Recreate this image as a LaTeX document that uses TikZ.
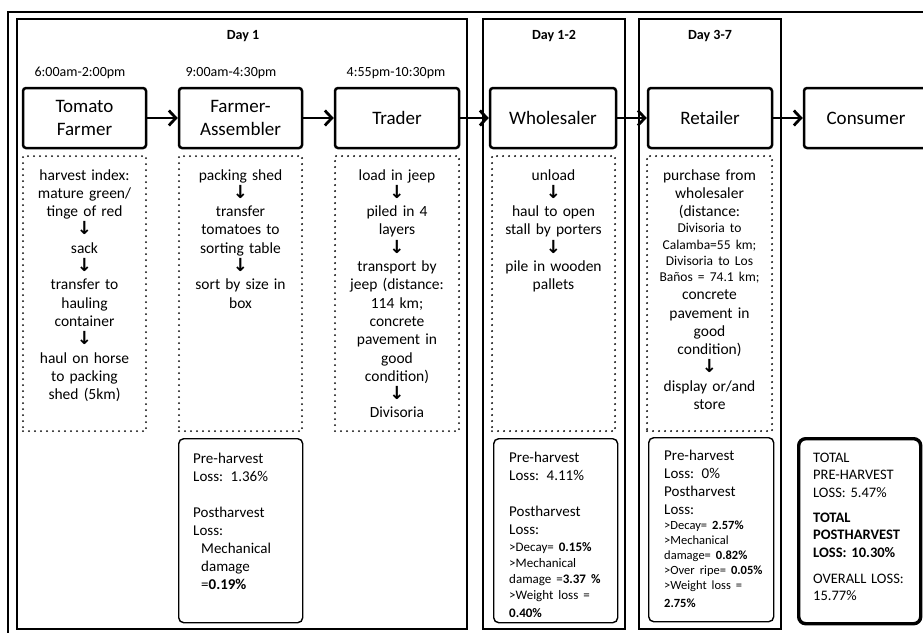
\documentclass[tikz,border=0pt]{standalone}
\usepackage{fontspec}
\setmainfont{Carlito}
\newfontfamily\arrowfont{DejaVu Sans}
\usetikzlibrary{arrows.meta}
\newcommand\dn{{\arrowfont\bfseries\fontsize{18}{18.3}\selectfont ↓}}
\begin{document}
\begin{tikzpicture}[x=1pt,y=-1pt,
  frame/.style={draw, line width=1.3pt},
  mainbox/.style={draw, line width=2.5pt, rounded corners=3pt, minimum width=123pt, minimum height=60pt, align=center, font=\fontsize{19}{23}\selectfont, inner sep=0pt},
  dotbox/.style={draw, line width=2.2pt, dash pattern=on 0pt off 6pt, line cap=round, minimum width=123pt, minimum height=275pt, anchor=north, inner sep=0pt},
  steps/.style={anchor=base, text width=120pt, align=center, inner sep=0pt, font=\fontsize{15.5}{18.3}\selectfont},
  lossbox/.style={draw, line width=1.4pt, rounded corners=5pt, anchor=north west, inner sep=0pt, minimum width=124pt, minimum height=184pt},
  losstext/.style={anchor=base west, text width=110pt, align=left, inner sep=0pt, font=\fontsize{15}{18}\selectfont},
  flow/.style={line width=2.8pt, -{Straight Barb[length=7pt,width=15pt,line width=2.8pt]}},
  daylabel/.style={font=\bfseries\fontsize{14}{16}\selectfont, inner sep=0pt},
  timelabel/.style={font=\fontsize{14}{16}\selectfont, inner sep=0pt},
]
\useasboundingbox (0,0) rectangle (923,632);
\begin{scope}
\clip (0,0) rectangle (923,632);
\draw[frame] (8,12) rectangle (940,645);
\draw[frame] (17,19) rectangle (467,629);
\draw[frame] (483,19) rectangle (625,629);
\draw[frame] (639,19) rectangle (781,629);

\node[daylabel] (day1) at (243,36) {Day 1};
\node[daylabel] (day12) at (554,36) {Day 1-2};
\node[daylabel] (day37) at (710,36) {Day 3-7};

\node[timelabel] (t1) at (80,73) {6:00am-2:00pm};
\node[timelabel] (t2) at (231,73) {9:00am-4:30pm};
\node[timelabel] (t3) at (396,73) {4:55pm-10:30pm};

\node[mainbox] (tf) at (84.5,118) {Tomato\\Farmer};
\node[mainbox] (fa) at (240.5,118) {Farmer-\\Assembler};
\node[mainbox, minimum width=124pt] (tr) at (397,118) {Trader};
\node[mainbox, minimum width=126pt] (wh) at (553,118) {Wholesaler};
\node[mainbox, minimum width=124pt] (re) at (710,118) {Retailer};
\node[mainbox, minimum width=124pt] (co) at (866,118) {Consumer};

\draw[flow] (tf) -- (fa);
\draw[flow] (fa) -- (tr);
\draw[flow] (tr) -- (wh);
\draw[flow] (wh) -- (re);
\draw[flow] (re) -- (co);

\node[dotbox] (d1) at (84.5,155) {};
\node[dotbox] (d2) at (240.5,155) {};
\node[dotbox, minimum width=124pt] (d3) at (397,155) {};
\node[dotbox] (d4) at (553.5,155) {};
\node[dotbox, minimum width=125pt] (d5) at (709.5,155) {};

\node[steps] (s1) at ([yshift=-25pt]d1.north) {harvest index:\\ mature green/\\ tinge of red\\ \dn\\ sack\\ \dn\\ transfer to\\ hauling\\ container\\ \dn\\ haul on horse\\ to packing\\ shed (5km)};
\node[steps] (s2) at ([yshift=-25pt]d2.north) {packing shed\\ \dn\\ transfer\\ tomatoes to\\ sorting table\\ \dn\\ sort by size in\\ box};
\node[steps] (s3) at ([yshift=-25pt]d3.north) {load in jeep\\ \dn\\ piled in 4\\ layers\\ \dn\\ transport by\\ jeep (distance:\\ 114 km;\\ concrete\\ pavement in\\ good\\ condition)\\ \dn\\ Divisoria};
\node[steps] (s4) at ([yshift=-25pt]d4.north) {unload\\ \dn\\ haul to open\\ stall by porters\\ \dn\\ pile in wooden\\ pallets};
\node[steps] (s5) at ([yshift=-25pt]d5.north) {purchase from\\ wholesaler\\ (distance:\\ \fontsize{13.5}{16.2}\selectfont Divisoria to\\ Calamba=55 km;\\ Divisoria to Los\\ Baños = 74.1 km;\\ \fontsize{15.5}{18.3}\selectfont concrete\\ pavement in\\ good\\ condition)\\ \dn\\ display or/and\\ store};

\node[lossbox] (l2) at (178,438) {};
\node[lossbox] (l4) at (493,438) {};
\node[lossbox, minimum width=125pt] (l5) at (648,437) {};
\node[lossbox, line width=3.4pt, rounded corners=7pt, minimum width=122pt, minimum height=185pt] (l6) at (797,437) {};

\node[losstext] (p2) at ([xshift=15pt,yshift=-25pt]l2.north west) {Pre-harvest\\ Loss: 1.36\%\\[18pt] Postharvest\\ Loss:\\ \hspace*{8pt}Mechanical\\ \hspace*{8pt}damage\\ \hspace*{8pt}=\textbf{0.19\%}};
\node[losstext] (p4) at ([xshift=16pt,yshift=-24pt]l4.north west) {Pre-harvest\\ Loss: 4.11\%\\[18pt] Postharvest\\ Loss:\\[1pt] \fontsize{13}{16}\selectfont >Decay= \textbf{0.15\%}\\ >Mechanical\\ damage =\textbf{3.37 \%}\\ >Weight loss =\\ \textbf{0.40\%}};
\node[losstext] (p5) at ([xshift=16pt,yshift=-23pt]l5.north west) {Pre-harvest\\ Loss: 0\%\\ Postharvest\\ Loss:\\ \fontsize{12.5}{15}\selectfont >Decay= \textbf{2.57\%}\\ >Mechanical\\ damage= \textbf{0.82\%}\\ >Over ripe= \textbf{0.05\%}\\ >Weight loss =\\ \textbf{2.75\%}};
\node[losstext, font=\fontsize{14.5}{17.3}\selectfont] (p6) at ([xshift=16pt,yshift=-25.5pt]l6.north west) {TOTAL\\ PRE-HARVEST\\ LOSS: 5.47\%\\[8pt] \textbf{TOTAL}\\ \textbf{POSTHARVEST}\\ \textbf{LOSS: 10.30\%}\\[9pt] OVERALL LOSS:\\ 15.77\%};
\end{scope}
\end{tikzpicture}
\end{document}
